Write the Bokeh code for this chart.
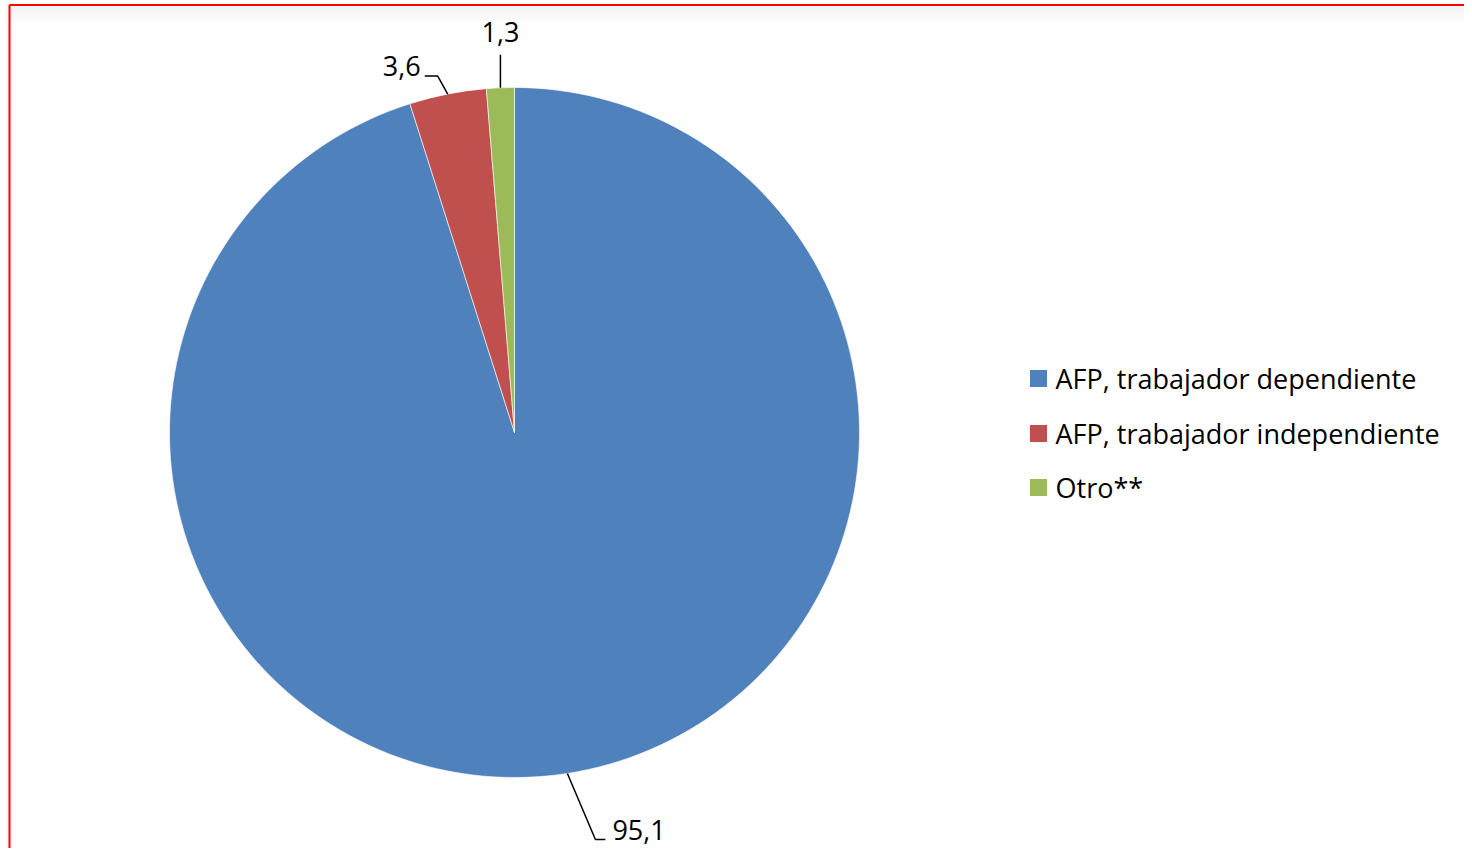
import math
from bokeh.plotting import figure
from bokeh.models import Range1d, ColumnDataSource
from bokeh.core.properties import value
from bokeh.embed import file_html
from bokeh.resources import INLINE

categories = ["AFP, trabajador dependiente", "AFP, trabajador independiente", "Otro**"]
values = [95.1, 3.6, 1.3]
labels = ["95,1", "3,6", "1,3"]
colors = ["#4F81BD", "#C0504D", "#9BBB59"]

W, H = 1464, 848
FONT = "Open Sans"
FS = "27px"

p = figure(width=W, height=H, output_backend="svg", toolbar_location=None,
           x_range=Range1d(0, W), y_range=Range1d(0, H),
           min_border=0, outline_line_color=None)
p.axis.visible = False
p.grid.visible = False
p.background_fill_color = "white"
p.border_fill_color = "white"

def sy(y):  # screen y -> data y
    return H - y

# soft shadow under top border
for i in range(18):
    p.quad(left=10, right=W, top=sy(6 + i), bottom=sy(7 + i),
           fill_color="#000000", fill_alpha=0.05 * (1 - i / 18), line_color=None)
# soft shadow left of the frame
for i in range(6):
    p.quad(left=8 - i - 1, right=8 - i, top=H, bottom=0,
           fill_color="#000000", fill_alpha=0.03 * (1 - i / 6), line_color=None)

# red frame (left and top visible)
p.line([9, 9], [0, sy(4.5)], line_color="#FF0000", line_width=2)
p.line([9, W], [sy(4.5), sy(4.5)], line_color="#FF0000", line_width=2)

cx, cy, r = 514, sy(432), 345
total = sum(values)
starts, ends, mids = [], [], []
cum = 0.0
for v in values:
    a0 = math.pi / 2 - 2 * math.pi * cum / total
    cum += v
    a1 = math.pi / 2 - 2 * math.pi * cum / total
    starts.append(a0)
    ends.append(a1)
    mids.append((a0 + a1) / 2)

src = ColumnDataSource(dict(start=starts, end=ends, color=colors))
p.wedge(x=cx, y=cy, radius=r, start_angle="start", end_angle="end",
        direction="clock", fill_color="color", line_color="white",
        line_width=0.6, source=src)

ex = [cx + r * math.cos(m) for m in mids]
ey = [cy + r * math.sin(m) for m in mids]

# 95,1
p.line([ex[0], ex[0] + 28, ex[0] + 38], [ey[0], ey[0] - 66, ey[0] - 66], line_color="black", line_width=1.5)
p.text([ex[0] + 45], [ey[0] - 57], text=[labels[0]], text_font=value(FONT), text_font_size=FS,
       text_align="left", text_baseline="middle", text_color="black")
# 3,6
p.line([ex[1], ex[1] - 10, ex[1] - 23], [ey[1], ey[1] + 18, ey[1] + 18], line_color="black", line_width=1.5)
p.text([ex[1] - 27], [ey[1] + 28], text=[labels[1]], text_font=value(FONT), text_font_size=FS,
       text_align="right", text_baseline="middle", text_color="black")
# 1,3
p.line([ex[2], ex[2]], [ey[2], ey[2] + 33], line_color="black", line_width=1.5)
p.text([ex[2]], [ey[2] + 56], text=[labels[2]], text_font=value(FONT), text_font_size=FS,
       text_align="center", text_baseline="middle", text_color="black")

# legend
ly = [sy(378), sy(433), sy(487)]
p.rect(x=[1038] * 3, y=ly, width=17, height=17, fill_color=colors, line_color=None)
p.text(x=[1055] * 3, y=ly, text=categories, text_font=value(FONT), text_font_size=FS,
       text_align="left", text_baseline="middle", text_color="black")

open("out.html", "w").write(file_html(p, INLINE))
